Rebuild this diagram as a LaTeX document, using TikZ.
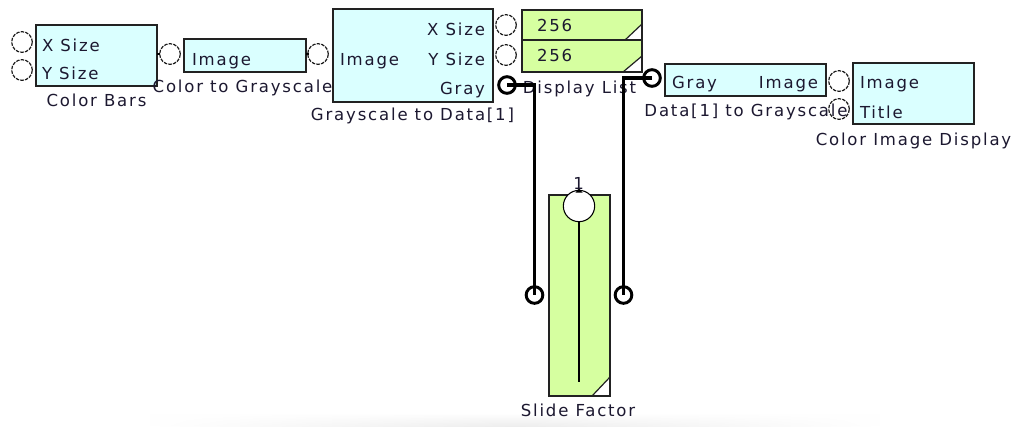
\documentclass[tikz,border=0pt]{standalone}
\usepackage{fontspec}
\setmainfont{DejaVu Sans}[LetterSpace=11]
\usetikzlibrary{fadings}
\definecolor{cyanfill}{RGB}{218,255,255}
\definecolor{greenfill}{RGB}{214,255,160}
\definecolor{boxline}{RGB}{34,34,34}
\definecolor{txtcol}{RGB}{28,24,48}
\tikzfading[name=hfade, left color=transparent!100, right color=transparent!100, middle color=transparent!0]
\begin{document}
\begin{tikzpicture}[x=0.75pt,y=-0.75pt,
  box/.style={draw=boxline, line width=1.1pt, inner sep=0pt, outer sep=0pt},
  cyanbox/.style={box, fill=cyanfill},
  greenbox/.style={box, fill=greenfill},
  txt/.style={inner sep=0pt, outer sep=0pt, font=\fontsize{12.4}{14}\selectfont, text=txtcol},
  port/.style={circle, draw=black!90, dash pattern=on 2.6pt off 0.9pt, line width=0.9pt, minimum size=15.5pt, inner sep=0pt},
  cport/.style={circle, draw=black, line width=2.2pt, minimum size=12.5pt, inner sep=0pt},
  wire/.style={draw=black, line width=2.3pt},
  thin/.style={draw=black, line width=0.8pt}]
\useasboundingbox (0,0) rectangle (1023,426);
\fill[white] (0,0) rectangle (1023,426);
% faint shadow at bottom
\shade[top color=white, bottom color=black!7, path fading=hfade] (150,413) rectangle (880,426);

% ---- boxes ----
\node[cyanbox, minimum width=121*0.75pt, minimum height=61*0.75pt] (cb) at (96.5,55.5) {};
\node[cyanbox, minimum width=122*0.75pt, minimum height=33*0.75pt] (c2g) at (245,55.5) {};
\node[cyanbox, minimum width=160*0.75pt, minimum height=93*0.75pt] (g2d) at (413,55.5) {};
\node[greenbox, minimum width=120*0.75pt, minimum height=30*0.75pt] (dl1) at (582,25) {};
\node[greenbox, minimum width=120*0.75pt, minimum height=32*0.75pt] (dl2) at (582,56) {};
\node[cyanbox, minimum width=161*0.75pt, minimum height=32*0.75pt] (d2g) at (745.5,80) {};
\node[cyanbox, minimum width=121*0.75pt, minimum height=61*0.75pt] (cid) at (913.5,93.5) {};
\node[greenbox, minimum width=61*0.75pt, minimum height=201*0.75pt] (sf) at (579.5,295.5) {};

% corner triangles
\filldraw[fill=white, draw=boxline, line width=0.9pt] (dl1.south east) -- ++(-17,0) -- ++(17,-16) -- cycle;
\filldraw[fill=white, draw=boxline, line width=0.9pt] (dl2.south east) -- ++(-19,0) -- ++(19,-16) -- cycle;
\filldraw[fill=white, draw=boxline, line width=0.9pt] (sf.south east) -- ++(-18,0) -- ++(18,-19) -- cycle;
\draw[box] (dl1.south west) rectangle (dl1.north east);
\draw[box] (dl2.south west) rectangle (dl2.north east);
\draw[box] (sf.south west) rectangle (sf.north east);

% small output stubs
\draw[thin] (cb.east |- 0,54) -- ++(3,0);
\draw[thin] (c2g.east |- 0,54) -- ++(3,0);

% ---- texts in boxes ----
\node[txt, anchor=base west] (t1) at (42,51) {X Size};
\node[txt, anchor=base west] (t2) at (42,79.5) {Y Size};
\node[txt, anchor=base west] (t3) at (192,65) {Image};
\node[txt, anchor=base west] (t4) at (340,65) {Image};
\node[txt, anchor=base east] (t5) at (485,35) {X Size};
\node[txt, anchor=base east] (t6) at (485,65) {Y Size};
\node[txt, anchor=base east] (t7) at (485,94) {Gray};
\node[txt, anchor=base west] (t8) at (537,31.7) {256};
\node[txt, anchor=base west] (t9) at (537,61.7) {256};
\node[txt, anchor=base west] (t10) at (672,88.3) {Gray};
\node[txt, anchor=base east] (t11) at (818,88.3) {Image};
\node[txt, anchor=base west] (t12) at (860,88.3) {Image};
\node[txt, anchor=base west] (t13) at (860,118.3) {Title};

% ---- labels ----
\node[txt, anchor=base] (l1) at (96.5,106.5) {Color Bars};
\node[txt, anchor=base] (l2) at (242.5,92.5) {Color to Grayscale};
\node[txt, anchor=base] (l3) at (412.5,120.5) {Grayscale to Data[1]};
\node[txt, anchor=base] (l4) at (579.5,93) {Display List};
\node[txt, anchor=base] (l5) at (746,116.7) {Data[1] to Grayscale};
\node[txt, anchor=base] (l6) at (913.5,145) {Color Image Display};
\node[txt, anchor=base] (l7) at (578,416) {Slide Factor};

% ---- slider ----
\coordinate (trackend) at (579,382);
\node[circle, draw=black, fill=white, line width=0.8pt, minimum size=23.5pt, inner sep=0pt] (knob) at (579,206) {};
\draw[thin] (knob.south) -- (trackend);
\fill[black] (575.5,192.5) -- (582.5,192.5) -- (579,188.5) -- cycle;
\node[txt, anchor=base] (one) at (578.5,189) {1};

% ---- ports ----
\node[port] (cbx) at (22,42) {};
\node[port] (cby) at (22,70) {};
\node[port] (c2gin) at (170,54) {};
\node[port] (g2din) at (318,54) {};
\node[port] (g2dxs) at (506,25) {};
\node[port] (g2dys) at (506,55) {};
\node[port] (d2gout) at (839,81) {};
\node[port] (cidtitle) at (839,109) {};
\node[cport] (gout) at (507,85) {};
\node[cport] (dgin) at (652,78) {};
\node[cport] (sfl) at (534.5,295) {};
\node[cport] (sfr) at (623.5,295) {};

% ---- wires ----
\draw[wire] (gout.center) -| (sfl.center);
\draw[wire] (dgin.center) -| (sfr.center);
\end{tikzpicture}
\end{document}
